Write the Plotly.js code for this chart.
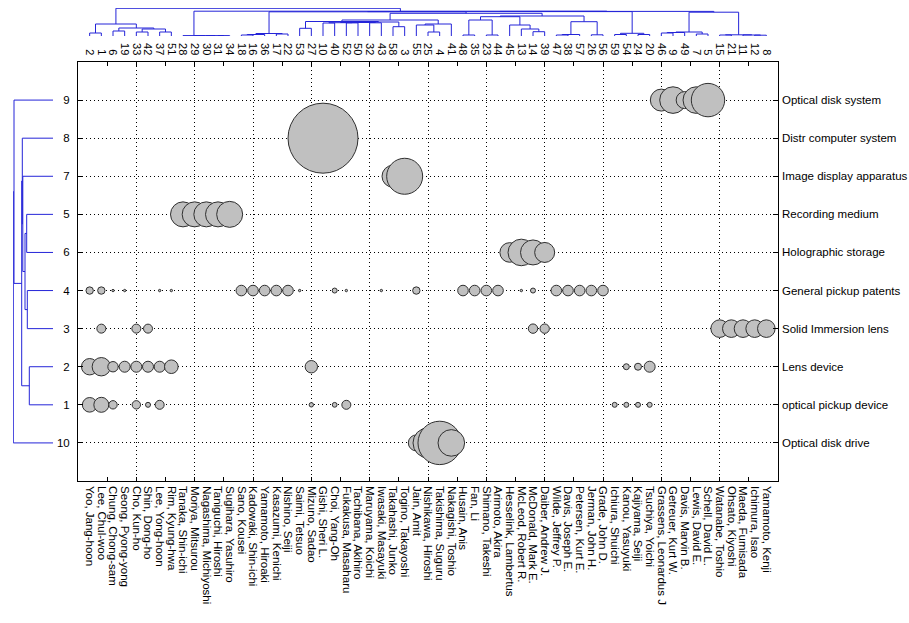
<!DOCTYPE html>
<html>
<head>
<meta charset="utf-8">
<script src="https://cdn.plot.ly/plotly-3.0.1.min.js"></script>
<style>html,body{margin:0;padding:0;background:#fff;}#chart{width:909px;height:623px;}</style>
</head>
<body>
<div id="chart"></div>
<script>
// ---------- data ----------
const inventors = ["Yoo, Jang-hoon","Lee, Chul-woo","Chung, Chong-sam","Seong, Pyong-yong","Cho, Kun-ho","Shin, Dong-ho","Lee, Yong-hoon","Rim, Kyung-hwa","Tanaka, Shin-ichi","Moriya, Mitsurou","Nagashima, Michiyoshi","Taniguchi, Hiroshi","Sugihara, Yasuhiro","Sano, Kousei","Kadowaki, Shin-ichi","Yamamoto, Hiroaki","Kasazumi, Kenichi","Nishino, Seiji","Saimi, Tetsuo","Mizuno, Sadao","Gishi, Sheri L.","Choi, Yang-Oh","Fukakusa, Masaharu","Tachibana, Akihiro","Maruyama, Koichi","Iwasaki, Masayuki","Takahashi, Junko","Togino, Takayoshi","Jain, Amit","Nishikawa, Hiroshi","Takishima, Suguru","Nakagishi, Toshio","Husain, Anis","Fan, Li","Shimano, Takeshi","Arimoto, Akira","Hesselink, Lambertus","McLeod, Robert R.","McDonald, Mark E.","Daiber, Andrew J.","Wilde, Jeffrey P.","Davis, Joseph E.","Petersen, Kurt E.","Jerman, John H.","Grade, John D.","Ichiura, Shuichi","Kanou, Yasuyuki","Kajiyama, Seiji","Tsuchiya, Yoichi","Grassens, Leonardus J","Getreuer, Kurt W.","Davis, Marvin B.","Lewis, David E.","Schell, David L.","Watanabe, Toshio","Ohsato, Kiyoshi","Maeda, Fumisada","Ichimura, Isao","Yamamoto, Kenji"];
const inventorIds = [2,1,6,19,33,42,37,51,28,29,30,31,34,18,16,36,17,22,53,27,10,40,52,50,32,43,58,3,55,25,4,41,48,35,23,44,45,13,14,39,47,38,57,26,56,59,54,24,20,46,9,49,7,5,15,21,11,12,8];

const topicOrder = [9,8,7,5,6,4,3,2,1,10];
const topicNames = ["Optical disk system","Distr computer system","Image display apparatus","Recording medium","Holographic storage","General pickup patents","Solid Immersion lens","Lens device","optical pickup device","Optical disk drive"];

// bubbles: topic id, inventor column (1-based, in display order), weight
const bubbleTopic = [
 9,9,9,9,9,
 8,
 7,7,
 5,5,5,5,5,
 6,6,6,6,
 4,4,4,4,4,4,4,4,4,4,4,4,4,4,4,4,4,4,4,4,4,4,4,4,4,4,4,
 3,3,3,3,3,3,3,3,3,3,
 2,2,2,2,2,2,2,2,2,2,2,2,
 1,1,1,1,1,1,1,1,1,1,1,1,1,
 10,10,10,10];
const bubbleCol = [
 50,51,52,53,54,
 21,
 27,28,
 9,10,11,12,13,
 37,38,39,40,
 1,2,3,4,7,8,14,15,16,17,18,19,22,23,26,29,33,34,35,36,38,39,41,42,43,44,45,
 2,5,6,39,40,55,56,57,58,59,
 1,2,3,4,5,6,7,8,20,47,48,49,
 1,2,3,5,6,7,20,22,23,46,47,48,49,
 29,30,31,32];
const bubbleWeight = [
 11,13.3,8.5,13.3,16.7,
 35,
 11,18,
 12.5,12.5,12.5,12.5,13,
 9.8,13.3,12.5,10,
 3.7,3.7,1.2,1.2,1.2,1.2,5.3,5.3,5.3,5.3,5.3,1.2,2.5,1.2,1.2,3.7,5.3,5.3,5.3,5.3,1.2,2.5,5.3,5.3,5.3,5.3,5.3,
 4.5,4.5,4.5,4.7,4.7,8.8,8.8,8.8,8.8,8.8,
 8.2,9.2,5.2,5.5,5.5,5.5,5.5,6.8,6.2,3,3.5,5.5,
 7.3,7.5,4.2,4.2,2.5,4.5,2.2,2.4,4.5,2.5,2.5,2.5,2.5,
 8,15,21.7,13.3];

// column dendrogram: [node, childA, childB, height]; numbers = leaf columns
const colLinks = [
 ["a1",1,2,3],["a2",3,4,5],["a3",5,6,4],["a4",7,8,4],["a5","a3","a4",7],["a6","a2","a5",8],["A","a1","a6",12],
 ["b1",12,13,0.4],["b2",11,"b1",0.4],["b3",10,"b2",0.4],["B",9,"b3",0.4],
 ["c1",14,15,1],["c2","c1",16,1.5],["c3",17,18,2],["C","c2","c3",2.5],
 ["d1",19,20,7.7],["d2",21,22,13],["d3",23,24,13.1],["d4","d2","d3",13.3],["d5",25,26,13.2],["d6","d4","d5",13.5],
 ["d7",27,28,9.3],["d8","d6","d7",14],["D","d1","d8",14.5],
 ["e1",30,31,4],["e2",29,"e1",11],["E","e2",32,12],["DE","D","E",16],
 ["f1",33,34,1],["f2",35,36,1],["f3","f1","f2",16],["f4a",39,40,4.3],["f4",38,"f4a",7],["f5",37,"f4",11],["F","f3","f5",19.3],
 ["g1",41,42,1],["g2","g1",43,1.5],["g3",44,45,1.2],["G","g2","g3",14.3],
 ["FG","F","G",20],["DEFG","DE","FG",22.7],
 ["h1",46,47,1.5],["h2",48,49,1.5],["H","h1","h2",2.7],
 ["CDEFG","C","DEFG",24.2],["CH","CDEFG","H",24.4],
 ["i1",50,51,3],["i2","i1",52,3.5],["i3",53,54,2],["I","i2","i3",4],
 ["j1",55,56,1],["j2",58,59,0.8],["j3",57,"j2",1],["J","j1","j3",1.2],
 ["IJ","I","J",23.8],["K","CH","IJ",24.6],["BK","B","K",24.8],["ROOT","A","BK",27.7]
];
// row dendrogram: leaves are row positions (1 = top)
const rowLinks = [
 ["m1",4,5,26.3],["m2",6,7,25.7],["m3","m1","m2",28],["m4",3,"m3",30.2],["m5",2,"m4",30.7],
 ["m6",8,9,23.7],["R","m5","m6",31.3],["S",1,"R",39],["ROOT","S",10,39.7]
];

// ---------- build ----------
function tree(links){
  const nodes = {};
  const get = c => typeof c === 'number' ? {p:c, h:0} : nodes[c];
  const pos = [], hts = [];
  links.forEach(([name,a,b,h]) => {
    const A = get(a), B = get(b);
    pos.push(A.p, A.p, B.p, B.p, null);
    hts.push(A.h, h, h, B.h, null);
    nodes[name] = {p:(A.p+B.p)/2, h:h};
  });
  return {pos, hts};
}
const colTree = tree(colLinks);
const rowTree = tree(rowLinks);

const cols = inventors.map((_, i) => i + 1);
const rows = topicOrder.map((_, i) => i + 1);
const bx = bubbleCol.slice();
const by = bubbleTopic.map(t => topicOrder.indexOf(t) + 1);

const W = 909, H = 623;
const mL = 13, mR = 131, mT = 8, mB = 142;
const pw = W - mL - mR, ph = H - mT - mB;
const XD0 = (78 - mL) / pw;
const YD1 = (481 - 62) / ph;
const TD0 = (481 - 36) / ph;
const LD1 = (53 - mL) / pw;

const FONT = 'Arial, "Liberation Sans", sans-serif';
const DCOL = '#2424d8';

const traces = [
  {type:'scatter', mode:'markers', x:bx, y:by, xaxis:'x', yaxis:'y', hoverinfo:'skip',
   marker:{size:bubbleWeight, sizemode:'diameter', sizeref:0.5, color:'#c0c0c0', opacity:1,
           line:{color:'#303030', width:1}}},
  {type:'scatter', mode:'lines', x:colTree.pos, y:colTree.hts, xaxis:'x4', yaxis:'y3', hoverinfo:'skip',
   line:{color:DCOL, width:1}},
  {type:'scatter', mode:'lines', x:rowTree.hts, y:rowTree.pos, xaxis:'x5', yaxis:'y4', hoverinfo:'skip',
   line:{color:DCOL, width:1}},
  {type:'scatter', mode:'markers', x:[null], y:[null], xaxis:'x2', yaxis:'y2', hoverinfo:'skip'},
  {type:'scatter', mode:'markers', x:[null], y:[null], xaxis:'x3', yaxis:'y', hoverinfo:'skip'}
];

const grid = {showgrid:true, gridcolor:'#000', gridwidth:1, griddash:'1px,3px'};
const layout = {
  width:W, height:H,
  margin:{l:mL, r:mR, t:mT, b:mB, pad:0},
  paper_bgcolor:'#fff', plot_bgcolor:'#fff',
  showlegend:false,
  font:{family:FONT, size:11.5, color:'#000'},
  xaxis:Object.assign({domain:[XD0,1], range:[0,60], anchor:'y', tickmode:'linear', tick0:0, dtick:5,
    ticks:'inside', ticklen:4, tickcolor:'#000', showticklabels:false, zeroline:false,
    showline:true, linecolor:'#000', linewidth:1, mirror:'ticks',
    minor:{tick0:0, dtick:2.5, ticks:'inside', ticklen:4, tickcolor:'#000', showgrid:false}}, grid),
  xaxis2:{overlaying:'x', anchor:'y', side:'bottom', range:[0,60], tickmode:'array', tickvals:cols,
    ticktext:inventors, tickangle:90, ticks:'', showgrid:false, zeroline:false, showline:false,
    ticklabelstandoff:4, tickfont:{size:11.5, family:FONT}},
  xaxis3:{overlaying:'x', anchor:'y', side:'top', range:[0,60], tickmode:'array', tickvals:cols,
    ticktext:inventorIds.map(String), tickangle:90, ticks:'', showgrid:false, zeroline:false, showline:false,
    ticklabelstandoff:4, tickfont:{size:11, family:FONT}},
  xaxis4:{domain:[XD0,1], anchor:'y3', range:[0,60], visible:false},
  xaxis5:{domain:[0,LD1], anchor:'y4', range:[40,0], visible:false},
  yaxis:Object.assign({domain:[0,YD1], range:[11,0], anchor:'x', tickmode:'array', tickvals:rows,
    ticktext:topicOrder.map(String), ticks:'inside', ticklen:5, tickcolor:'#000', mirror:'ticks',
    showline:true, linecolor:'#000', linewidth:1, zeroline:false, ticklabelstandoff:5,
    tickfont:{size:11.5, family:FONT}}, grid),
  yaxis2:{overlaying:'y', anchor:'x', side:'right', range:[11,0], tickmode:'array', tickvals:rows,
    ticktext:topicNames, ticks:'', showgrid:false, zeroline:false, showline:false, ticklabelstandoff:3,
    tickfont:{size:11.5, family:FONT}},
  yaxis3:{domain:[TD0,1], anchor:'x4', range:[0,28], visible:false},
  yaxis4:{domain:[0,YD1], anchor:'x5', range:[11,0], visible:false}
};

Plotly.newPlot('chart', traces, layout, {displayModeBar:false, staticPlot:true});
</script>
</body>
</html>
